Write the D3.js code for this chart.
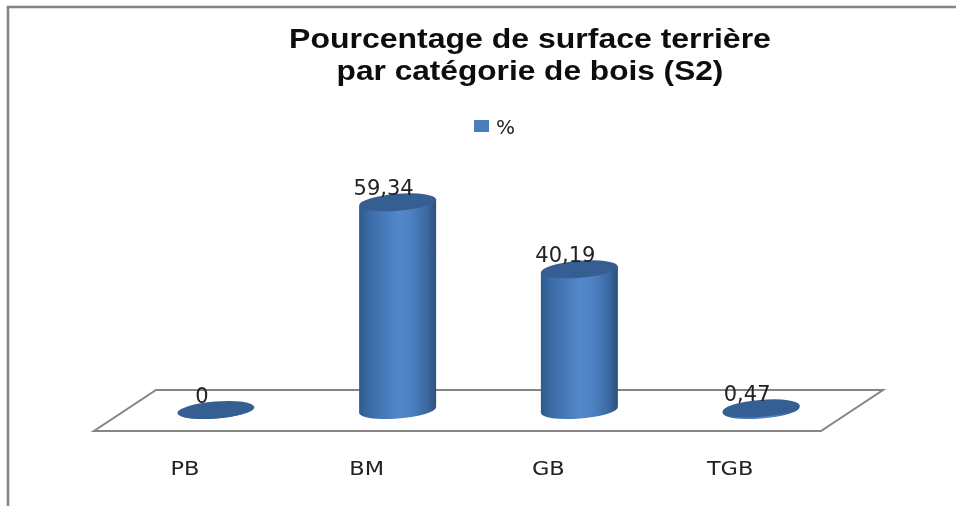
<!DOCTYPE html>
<html><head><meta charset="utf-8">
<script src="https://d3js.org/d3.v7.min.js"></script>
<style>html,body{margin:0;padding:0;background:#fff}svg{display:block}</style>
</head><body><svg id="c" width="956" height="506"></svg>
<script>
const categories=["PB","BM","GB","TGB"];
const values=[0,59.34,40.19,0.47];
const valueLabels=["0","59,34","40,19","0,47"];
const titleLines=["Pourcentage de surface terrière","par catégorie de bois (S2)"];
const seriesName="%";

const svg=d3.select("#c");
const W=956,H=506;
const defs=svg.append("defs");
const grad=defs.append("linearGradient").attr("id","cyl");
[[0,"#2f5a8c"],[0.12,"#3a6aa3"],[0.5,"#5287cb"],[0.65,"#4f83c5"],[0.88,"#3c6aa2"],[1,"#2e4f7a"]]
 .forEach(([o,c])=>grad.append("stop").attr("offset",o).attr("stop-color",c));
defs.append("filter").attr("id","soft").attr("x","-5%").attr("y","-5%").attr("width","110%").attr("height","110%")
 .append("feGaussianBlur").attr("stdDeviation",0.55);

const root=svg.append("g").attr("filter","url(#soft)");

// outer frame (top and left only)
root.append("path").attr("d",`M8,${H+5} V7 H${W+5}`).attr("fill","none").attr("stroke","#858585").attr("stroke-width",2.6);

// title (stretched horizontally as in the reference)
root.append("g").selectAll("text").data(titleLines).join("text")
 .attr("transform",(d,i)=>`translate(530,${i?80:47.5}) scale(${i?1.172:1.185},1)`)
 .attr("text-anchor","middle").attr("font-family","Liberation Sans, Arial, sans-serif")
 .attr("font-weight","bold").attr("font-size",27).attr("fill","#0c0c0c").text(d=>d);

// legend
root.append("rect").attr("x",474).attr("y",120).attr("width",15).attr("height",12).attr("fill","#4a7ebb");
root.append("text").attr("x",496).attr("y",134).attr("font-family","DejaVu Sans, sans-serif").attr("font-size",20).attr("fill","#222").text(seriesName);

// scales
const xFront=d3.scaleBand().domain(categories).range([94,821]);   // front edge of floor
const depthDx=62;                    // floor shift to the back
const barDx=31;                      // bars sit half way back
const y=d3.scaleLinear().domain([0,60]).range([410,200]);
const cx=c=>xFront(c)+xFront.bandwidth()/2;

// floor
const fy0=431,fy1=390;
const [x0,x1]=xFront.range();
root.append("path").attr("d",`M${x0},${fy0} L${x1},${fy0} L${x1+depthDx},${fy1} L${x0+depthDx},${fy1} Z`)
 .attr("fill","#fff").attr("stroke","#858585").attr("stroke-width",2);

// axis labels
const axis=d3.axisBottom(xFront).tickSize(0).tickPadding(0);
const ax=root.append("g").attr("transform","translate(0,455)").call(axis);
ax.select(".domain").remove();
ax.selectAll("text").attr("font-family","DejaVu Sans, sans-serif").attr("font-size",19).attr("fill","#222")
 .attr("dy",0).attr("y",0).attr("transform","translate(0,20) scale(1.18,1)");

// cylinders
const rx=38.5,ry=8.5,tilt=-4.5,tip=3;
const data=categories.map((c,i)=>({c,v:values[i],label:valueLabels[i]}));
const bars=root.append("g").selectAll("g").data(data).join("g")
 .attr("transform",d=>`translate(${cx(d.c)+barDx},0)`);
bars.append("path").attr("fill","url(#cyl)")
 .attr("d",d=>{const t=y(d.v),b=y(0);
  return `M${-rx},${t+tip} L${-rx},${b+tip} A${rx},${ry} ${tilt} 0 0 ${rx},${b-tip} L${rx},${t-tip} Z`;});
bars.append("ellipse").attr("rx",rx).attr("ry",ry)
 .attr("transform",d=>`translate(0,${y(d.v)}) rotate(${tilt})`)
 .attr("fill","#365f92");
// value labels
bars.append("text").attr("text-anchor","middle").attr("x",-14).attr("y",d=>y(d.v)-7)
 .attr("font-family","DejaVu Sans, sans-serif").attr("font-size",21).attr("fill","#222").text(d=>d.label);
</script></body></html>
